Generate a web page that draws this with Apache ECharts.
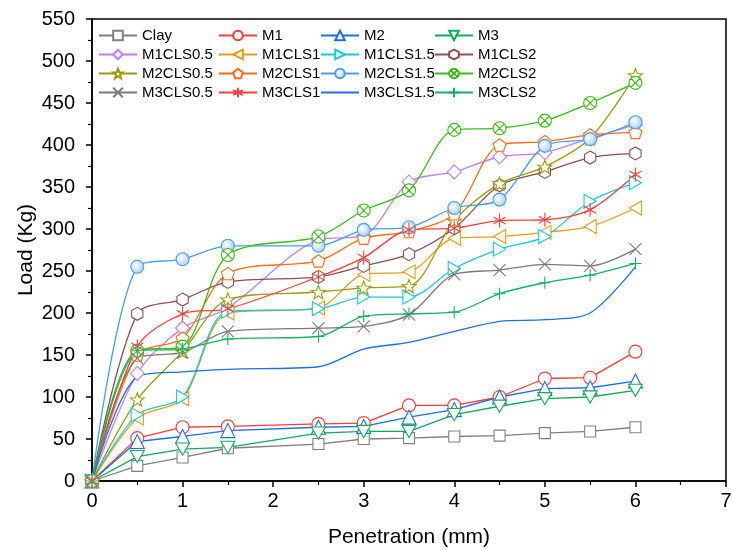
<!DOCTYPE html>
<html>
<head>
<meta charset="utf-8">
<script src="https://cdn.jsdelivr.net/npm/echarts@6/dist/echarts.min.js"></script>
<style>html,body{margin:0;padding:0;background:#fff}#c{width:732px;height:550px}</style>
</head>
<body>
<div id="c"></div>
<script>
// ---- data ----
const penetration = [0, 0.5, 1, 1.5, 2.5, 3, 3.5, 4, 4.5, 5, 5.5, 6];
const clay      = [0, 18, 28, 39, 44, 50, 51, 53, 54, 57, 59, 64];
const m1        = [0, 51, 64, 65, 68, 69, 90, 90, 100, 122, 123, 154];
const m2        = [0, 47, 53, 60, 64, 65, 76, 85, 100, 110, 111, 119];
const m3        = [0, 29, 38, 40, 57, 59, 59, 79, 89, 98, 100, 108];
const m1cls05   = [0, 128, 182, 206, 287, 292, 356, 368, 386, 391, 408, 424];
const m1cls1    = [0, 75, 98, 200, 206, 246, 249, 289, 291, 296, 303, 325];
const m1cls15   = [0, 79, 100, 202, 205, 219, 219, 253, 276, 291, 333, 355];
const m1cls2    = [0, 199, 216, 237, 243, 256, 270, 301, 352, 368, 385, 390];
const m2cls05   = [0, 97, 154, 216, 225, 230, 232, 310, 354, 374, 408, 483];
const m2cls1    = [0, 150, 170, 247, 262, 289, 297, 318, 400, 404, 412, 415];
const m2cls15   = [0, 255, 264, 280, 280, 299, 302, 325, 335, 399, 407, 427];
const m2cls2    = [0, 155, 160, 269, 291, 322, 346, 418, 420, 429, 450, 474];
const m3cls05   = [0, 146, 153, 178, 182, 184, 198, 246, 251, 258, 256, 276];
const m3cls1    = [0, 160, 199, 205, 243, 266, 299, 301, 310, 311, 323, 365];
const m3cls15   = [0, 124, 130, 133, 136, 157, 165, 178, 190, 192, 200, 255];
const m3cls2    = [0, 155, 157, 169, 172, 196, 199, 201, 223, 236, 245, 259];
const xTicks = [0, 1, 2, 3, 4, 5, 6, 7];
const yTicks = [0, 50, 100, 150, 200, 250, 300, 350, 400, 450, 500, 550];

// ---- marker shapes ----
function starPath() {
  let d = '';
  for (let i = 0; i < 10; i++) {
    const r = i % 2 === 0 ? 5 : 2.1;
    const a = -Math.PI / 2 + i * Math.PI / 5;
    const x = (5 + r * Math.cos(a)).toFixed(2), y = (5 + r * Math.sin(a)).toFixed(2);
    d += (i === 0 ? 'M' : 'L') + x + ',' + y;
  }
  return 'path://' + d + 'Z';
}
const SYM = {
  square: 'rect',
  circle: 'circle',
  up: 'triangle',
  down: 'path://M0,0L10,0L5,8.7Z',
  diamond: 'diamond',
  left: 'path://M0,5L8.7,0L8.7,10Z',
  right: 'path://M8.7,5L0,0L0,10Z',
  hex: 'path://M5,0L9.33,2.5L9.33,7.5L5,10L0.67,7.5L0.67,2.5Z',
  star: starPath(),
  pent: 'path://M5,0L10,3.63L8.09,9.51L1.91,9.51L0,3.63Z',
  ox: 'path://M10,5A5,5,0,1,1,0,5A5,5,0,1,1,10,5ZM1.46,1.46L8.54,8.54M8.54,1.46L1.46,8.54',
  x: 'path://M0,0L10,10M10,0L0,10',
  ast: 'path://M5,0L5,10M0.7,2.5L9.3,7.5M9.3,2.5L0.7,7.5',
  plus: 'path://M5,0L5,10M0,5L10,5'
};

const defs = [
  ['Clay', clay, '#808080', 'square', 11, false],
  ['M1', m1, '#ff3b3b', 'circle', 13, false],
  ['M2', m2, '#1f6fe0', 'up', 14, false],
  ['M3', m3, '#16a85a', 'down', 14, false],
  ['M1CLS0.5', m1cls05, '#c07ff0', 'diamond', 14, true],
  ['M1CLS1', m1cls1, '#e0a01c', 'left', 14, true],
  ['M1CLS1.5', m1cls15, '#1fc8d8', 'right', 14, true],
  ['M1CLS2', m1cls2, '#8a5050', 'hex', 13, true],
  ['M2CLS0.5', m2cls05, '#9a9a10', 'star', 14, true],
  ['M2CLS1', m2cls1, '#ff6e1a', 'pent', 13, true],
  ['M2CLS1.5', m2cls15, '#4a9fe0', 'circle', 13, true],
  ['M2CLS2', m2cls2, '#3cb81c', 'ox', 13, true],
  ['M3CLS0.5', m3cls05, '#7a7a7a', 'x', 12, true],
  ['M3CLS1', m3cls1, '#ff4040', 'ast', 14, true],
  ['M3CLS1.5', m3cls15, '#1f6fe0', 'none', 0, true],
  ['M3CLS2', m3cls2, '#18b060', 'plus', 12, true]
];

const series = defs.map(([name, vals, col, sym, size, smooth]) => {
  let fill = '#ffffff';
  if (sym === 'x' || sym === 'ast' || sym === 'plus') fill = 'none';
  if (name === 'M2CLS1.5') {
    fill = new echarts.graphic.RadialGradient(0.4, 0.4, 0.6, [
      { offset: 0, color: '#ffffff' }, { offset: 1, color: '#a8cdee' }
    ]);
  }
  return {
    name: name,
    type: 'line',
    data: penetration.map((x, i) => [x, vals[i]]),
    smooth: smooth ? 0.3 : false,
    symbol: SYM[sym] || 'none',
    symbolSize: size,
    symbolKeepAspect: true,
    showSymbol: sym !== 'none',
    lineStyle: { color: col, width: 1.3 },
    itemStyle: { color: fill, borderColor: col, borderWidth: 1.1 },
    emphasis: { disabled: true },
    animation: false,
    z: 2
  };
});

const font = "'Liberation Sans', Arial, sans-serif";
const cols = [
  ['Clay', 'M1CLS0.5', 'M2CLS0.5', 'M3CLS0.5'],
  ['M1', 'M1CLS1', 'M2CLS1', 'M3CLS1'],
  ['M2', 'M1CLS1.5', 'M2CLS1.5', 'M3CLS1.5'],
  ['M3', 'M1CLS2', 'M2CLS2', 'M3CLS2']
];
const colLeft = [98, 218, 320, 434];
const legends = cols.map((names, i) => ({
  orient: 'vertical',
  left: colLeft[i],
  top: 27,
  itemWidth: 38,
  itemHeight: 12,
  itemGap: 2,
  padding: 0,
  data: names.map(n => n === 'M3CLS1.5'
    ? { name: n, itemStyle: { opacity: 0 } }
    : { name: n }),
  selectedMode: false,
  textStyle: { fontFamily: font, fontSize: 15, color: '#000', lineHeight: 17 }
}));

const chart = echarts.init(document.getElementById('c'), null, { renderer: 'canvas' });
chart.setOption({
  backgroundColor: '#fff',
  animation: false,
  legend: legends,
  grid: { left: 92, right: 6, top: 19, bottom: 69, outerBoundsMode: 'none', containLabel: false,
          show: true, borderColor: '#000', borderWidth: 1.5, backgroundColor: 'transparent' },
  xAxis: {
    type: 'value', min: xTicks[0], max: xTicks[xTicks.length - 1], interval: 1,
    name: 'Penetration (mm)', nameLocation: 'middle', nameGap: 46, nameMoveOverlap: false,
    nameTextStyle: { fontFamily: font, fontSize: 21, color: '#000' },
    axisLine: { show: true, lineStyle: { color: '#000', width: 1.5 } },
    axisTick: { show: true, length: 6, lineStyle: { color: '#000', width: 1.5 } },
    minorTick: { show: true, splitNumber: 2, length: 4, lineStyle: { color: '#000', width: 1.2 } },
    splitLine: { show: false },
    axisLabel: { fontFamily: font, fontSize: 20, color: '#000', margin: 10 }
  },
  yAxis: {
    type: 'value', min: yTicks[0], max: yTicks[yTicks.length - 1], interval: 50,
    name: 'Load (Kg)', nameLocation: 'middle', nameGap: 55, nameMoveOverlap: false,
    nameTextStyle: { fontFamily: font, fontSize: 21, color: '#000' },
    axisLine: { show: true, lineStyle: { color: '#000', width: 1.5 } },
    axisTick: { show: true, length: 6, lineStyle: { color: '#000', width: 1.5 } },
    minorTick: { show: true, splitNumber: 2, length: 4, lineStyle: { color: '#000', width: 1.2 } },
    splitLine: { show: false },
    axisLabel: { fontFamily: font, fontSize: 20, color: '#000', margin: 17 }
  },
  series: series
});
</script>
</body>
</html>
